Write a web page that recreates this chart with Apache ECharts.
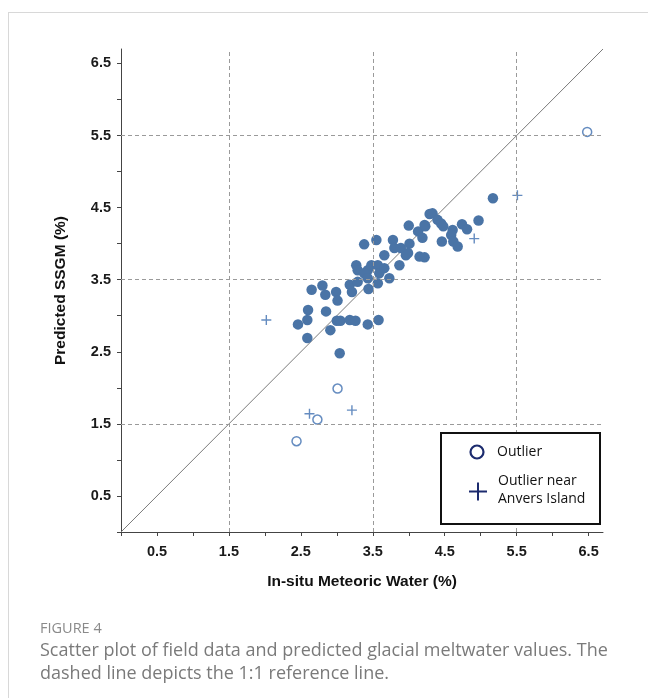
<!DOCTYPE html>
<html>
<head>
<meta charset="utf-8">
<script src="https://cdn.jsdelivr.net/npm/echarts@6/dist/echarts.min.js"></script>
<style>
  html, body { margin: 0; padding: 0; background: #fff; }
  #chart { width: 648px; height: 698px; }
</style>
</head>
<body>
<div id="chart"></div>
<script>
// In-situ meteoric water (x) vs predicted SSGM (y), percent
const fieldX = [2.65, 2.80, 2.84, 2.99, 3.01, 3.18, 3.21, 3.29, 3.44, 3.57, 3.73,
  2.60, 2.85, 2.46, 2.59, 3.00, 3.05, 3.18, 3.26, 3.43, 3.58, 2.91, 2.59, 3.04,
  3.38, 3.55, 4.00, 4.22, 4.29, 3.78, 3.80, 3.66, 3.89, 3.96, 4.01, 4.13, 4.15, 4.22,
  3.87, 3.27, 3.29, 3.43, 3.48, 3.57, 3.59, 3.66, 3.38, 3.43, 3.99, 4.19, 4.23,
  5.17, 4.97, 4.74, 4.81, 4.33, 4.40, 4.45, 4.48, 4.61, 4.59, 4.62, 4.68, 4.46];
const fieldY = [3.36, 3.42, 3.29, 3.33, 3.21, 3.43, 3.33, 3.47, 3.37, 3.45, 3.52,
  3.08, 3.06, 2.88, 2.94, 2.93, 2.93, 2.94, 2.93, 2.88, 2.94, 2.80, 2.69, 2.48,
  3.99, 4.05, 4.25, 4.26, 4.41, 4.05, 3.94, 3.84, 3.94, 3.84, 4.00, 4.17, 3.82, 3.81,
  3.70, 3.70, 3.63, 3.63, 3.70, 3.70, 3.59, 3.66, 3.59, 3.52, 3.87, 4.08, 4.24,
  4.63, 4.32, 4.27, 4.20, 4.42, 4.33, 4.28, 4.24, 4.19, 4.12, 4.03, 3.96, 4.03];

const outlierX = [3.01, 2.73, 2.44, 6.48];
const outlierY = [1.99, 1.56, 1.26, 5.55];

const anversX = [2.02, 2.62, 3.21, 4.91, 5.51];
const anversY = [2.94, 1.64, 1.69, 4.07, 4.67];

const axisMax = 6.7;
const tickValues = [0, 0.5, 1, 1.5, 2, 2.5, 3, 3.5, 4, 4.5, 5, 5.5, 6, 6.5];
const tickLabels = [0.5, 1.5, 2.5, 3.5, 4.5, 5.5, 6.5];
const refLines = [1.5, 3.5, 5.5];
const oneToOne = [0, axisMax];

const zip = (xs, ys) => xs.map((x, i) => [x, ys[i]]);

const labelFont = {
  fontFamily: 'Liberation Sans, Arial, sans-serif',
  fontWeight: 'bold',
  fontSize: 14.5,
  color: '#1a1a1a'
};

function valueAxis(name, extra) {
  return Object.assign({
    type: 'value',
    min: 0,
    max: axisMax,
    interval: 0.5,
    name: name,
    nameLocation: 'middle',
    nameTextStyle: {
      fontFamily: 'Liberation Sans, Arial, sans-serif',
      fontWeight: 'bold',
      fontSize: 15.5,
      color: '#111'
    },
    axisLine: { show: true, lineStyle: { color: '#444', width: 1 } },
    axisTick: { show: true, length: 4, customValues: tickValues,
      lineStyle: { color: '#444', width: 1 } },
    axisLabel: Object.assign({ customValues: tickLabels,
      formatter: v => v.toFixed(1) }, labelFont),
    splitLine: { show: false }
  }, extra);
}

const chart = echarts.init(document.getElementById('chart'), null, { renderer: 'canvas' });

const navy = '#1c2b6e';
const markBlue = '#3e6fb0';
const captionFont = 'Open Sans, Lato, sans-serif';

chart.setOption({
  animation: false,
  backgroundColor: '#fff',
  grid: { left: 121, top: 49, right: 45, bottom: 166, containLabel: false },
  xAxis: valueAxis('In-situ Meteoric Water (%)', {
    nameGap: 42,
    axisLabel: Object.assign({ customValues: tickLabels, margin: 12,
      formatter: v => v.toFixed(1) }, labelFont)
  }),
  yAxis: valueAxis('Predicted SSGM (%)', {
    nameGap: 52,
    axisLabel: Object.assign({ customValues: tickLabels, margin: 10,
      formatter: v => v.toFixed(1) }, labelFont)
  }),
  series: [
    {
      name: '1:1',
      type: 'line',
      data: zip(oneToOne, oneToOne),
      symbol: 'none',
      lineStyle: { color: '#7a7a7a', width: 1 },
      z: 1,
      markLine: {
        silent: true,
        symbol: ['none', 'none'],
        label: { show: false },
        lineStyle: { color: '#9a9a9a', type: [4, 3], width: 1 },
        data: refLines.map(v => ({ xAxis: v }))
          .concat(refLines.map(v => ({ yAxis: v })))
      }
    },
    {
      name: 'Field data',
      type: 'scatter',
      data: zip(fieldX, fieldY),
      symbol: 'circle',
      symbolSize: 10.5,
      itemStyle: { color: '#4a74a6', opacity: 1 },
      z: 3
    },
    {
      name: 'Outlier',
      type: 'scatter',
      data: zip(outlierX, outlierY),
      symbol: 'circle',
      symbolSize: 9,
      itemStyle: { color: '#fff', borderColor: markBlue, borderWidth: 1.5 },
      z: 4
    },
    {
      name: 'Outlier near Anvers Island',
      type: 'scatter',
      data: zip(anversX, anversY),
      symbol: 'path://M0,5L10,5M5,0L5,10',
      symbolSize: 10,
      itemStyle: { color: 'none', borderColor: markBlue, borderWidth: 1.4 },
      z: 4
    }
  ],
  graphic: [
    // card frame
    { type: 'line', shape: { x1: 8.5, y1: 12, x2: 8.5, y2: 698 },
      style: { stroke: '#d8d8d8', lineWidth: 1 } },
    { type: 'line', shape: { x1: 8, y1: 12.5, x2: 648, y2: 12.5 },
      style: { stroke: '#d8d8d8', lineWidth: 1 } },
    // legend box
    { type: 'rect', shape: { x: 441, y: 433, width: 159, height: 91 },
      style: { fill: '#fff', stroke: '#111', lineWidth: 2 }, z: 10 },
    { type: 'circle', shape: { cx: 477, cy: 452, r: 6.5 },
      style: { fill: 'none', stroke: navy, lineWidth: 2.2 }, z: 11 },
    { type: 'text', x: 497, y: 452, z: 11,
      style: { text: 'Outlier', fontFamily: captionFont,
        fontSize: 14, fill: '#111', verticalAlign: 'middle' } },
    { type: 'line', shape: { x1: 469, y1: 491.5, x2: 487, y2: 491.5 },
      style: { stroke: navy, lineWidth: 2 }, z: 11 },
    { type: 'line', shape: { x1: 478, y1: 482.5, x2: 478, y2: 500.5 },
      style: { stroke: navy, lineWidth: 2 }, z: 11 },
    { type: 'text', x: 498, y: 481, z: 11,
      style: { text: 'Outlier near', fontFamily: captionFont,
        fontSize: 14, fill: '#111', verticalAlign: 'middle' } },
    { type: 'text', x: 498, y: 499, z: 11,
      style: { text: 'Anvers Island', fontFamily: captionFont,
        fontSize: 14, fill: '#111', verticalAlign: 'middle' } },
    // caption
    { type: 'text', x: 40, y: 629,
      style: { text: 'FIGURE 4', fontFamily: captionFont,
        fontSize: 14.5, fill: '#8a8a8a', verticalAlign: 'middle' } },
    { type: 'text', x: 40, y: 651,
      style: { text: 'Scatter plot of field data and predicted glacial meltwater values. The',
        fontFamily: captionFont, fontSize: 18, fill: '#7a7a7a',
        verticalAlign: 'middle' } },
    { type: 'text', x: 40, y: 674,
      style: { text: 'dashed line depicts the 1:1 reference line.',
        fontFamily: captionFont, fontSize: 18, fill: '#7a7a7a',
        verticalAlign: 'middle' } }
  ]
});
</script>
</body>
</html>
